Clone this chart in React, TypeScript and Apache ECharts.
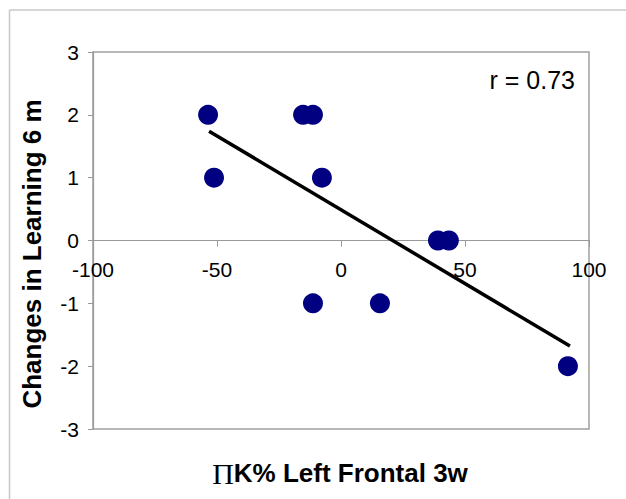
import React, { useEffect, useRef } from "react";
import * as echarts from "echarts";

const xTicks = [-100, -50, 0, 50, 100];
const yTicks = [-3, -2, -1, 0, 1, 2, 3];
const pointsX = [-53.6, -51.2, -15.3, -11.3, -7.7, -11.3, 15.7, 39.1, 43.5, 91.5];
const pointsY = [2, 1, 2, 2, 1, -1, -1, 0, 0, -2];
const trendX = [-53.2, 92.3];
const trendY = [1.74, -1.68];
const xTitle = "K% Left Frontal 3w";
const xTitleSymbol = "Π";
const yTitle = "Changes in Learning 6 m";
const rLabel = "r = 0.73";

export default function App() {
  const ref = useRef<HTMLDivElement>(null);
  useEffect(() => {
    if (!ref.current) return;
    const chart = echarts.init(ref.current, undefined, { renderer: "svg" });
    const font = "'Liberation Sans', Arial, sans-serif";
    const gridTop = 52;
    const gridBottomPx = 429;
    const zeroOffset = -((gridBottomPx - gridTop) / 2);
    chart.setOption({
      animation: false,
      grid: {
        left: 93,
        right: 37,
        top: gridTop,
        bottom: 499 - gridBottomPx,
        show: true,
        borderColor: "#a0a0a0",
        borderWidth: 1.5,
        backgroundColor: "transparent",
      },
      xAxis: {
        type: "value",
        min: xTicks[0],
        max: xTicks[xTicks.length - 1],
        interval: 50,
        position: "bottom",
        offset: zeroOffset,
        axisLine: { onZero: false, lineStyle: { color: "#999999", width: 1.2 } },
        axisTick: { show: true, length: 6, lineStyle: { color: "#999999" } },
        axisLabel: { color: "#000", fontSize: 21, fontFamily: font, margin: 18 },
        splitLine: { show: false },
      },
      yAxis: {
        type: "value",
        min: yTicks[0],
        max: yTicks[yTicks.length - 1],
        interval: 1,
        axisLine: { show: true, onZero: false, lineStyle: { color: "#999999", width: 1.2 } },
        axisTick: { show: true, length: 5, lineStyle: { color: "#999999" } },
        axisLabel: { color: "#000", fontSize: 21, fontFamily: font, margin: 14 },
        splitLine: { show: false },
      },
      series: [
        {
          type: "line",
          data: trendX.map((x, i) => [x, trendY[i]]),
          symbol: "none",
          lineStyle: { color: "#000", width: 3.5 },
          z: 2,
        },
        {
          type: "scatter",
          data: pointsX.map((x, i) => [x, pointsY[i]]),
          symbol: "circle",
          symbolSize: 20,
          itemStyle: { color: "#000080", opacity: 1 },
          z: 3,
        },
      ],
      graphic: [
        {
          type: "line",
          shape: { x1: 9.5, y1: 10, x2: 626, y2: 10 },
          style: { stroke: "#c8c8c8", lineWidth: 1.5 },
        },
        {
          type: "line",
          shape: { x1: 9.5, y1: 10, x2: 9.5, y2: 499 },
          style: { stroke: "#c8c8c8", lineWidth: 1.5 },
        },
        {
          type: "text",
          x: 575,
          y: 80,
          style: {
            text: rLabel,
            fontSize: 25,
            fontFamily: font,
            fill: "#000",
            align: "right",
            verticalAlign: "middle",
          },
        },
        {
          type: "text",
          x: 32,
          y: 254,
          rotation: Math.PI / 2,
          style: {
            text: yTitle,
            fontSize: 26,
            fontWeight: "bold",
            fontFamily: font,
            fill: "#000",
            align: "center",
            verticalAlign: "middle",
          },
        },
        {
          type: "text",
          x: 340,
          y: 473,
          style: {
            text: "{p|" + xTitleSymbol + "}" + xTitle,
            fontSize: 26,
            fontWeight: "bold",
            fontFamily: font,
            fill: "#000",
            align: "center",
            verticalAlign: "middle",
            rich: {
              p: {
                fontFamily: "'Liberation Serif', 'DejaVu Serif', serif",
                fontWeight: "normal",
                fontSize: 30,
                fill: "#000",
              },
            },
          },
        },
      ],
    });
    return () => chart.dispose();
  }, []);
  return (
    <div
      ref={ref}
      style={{ position: "absolute", left: 0, top: 0, width: 626, height: 499 }}
    />
  );
}
